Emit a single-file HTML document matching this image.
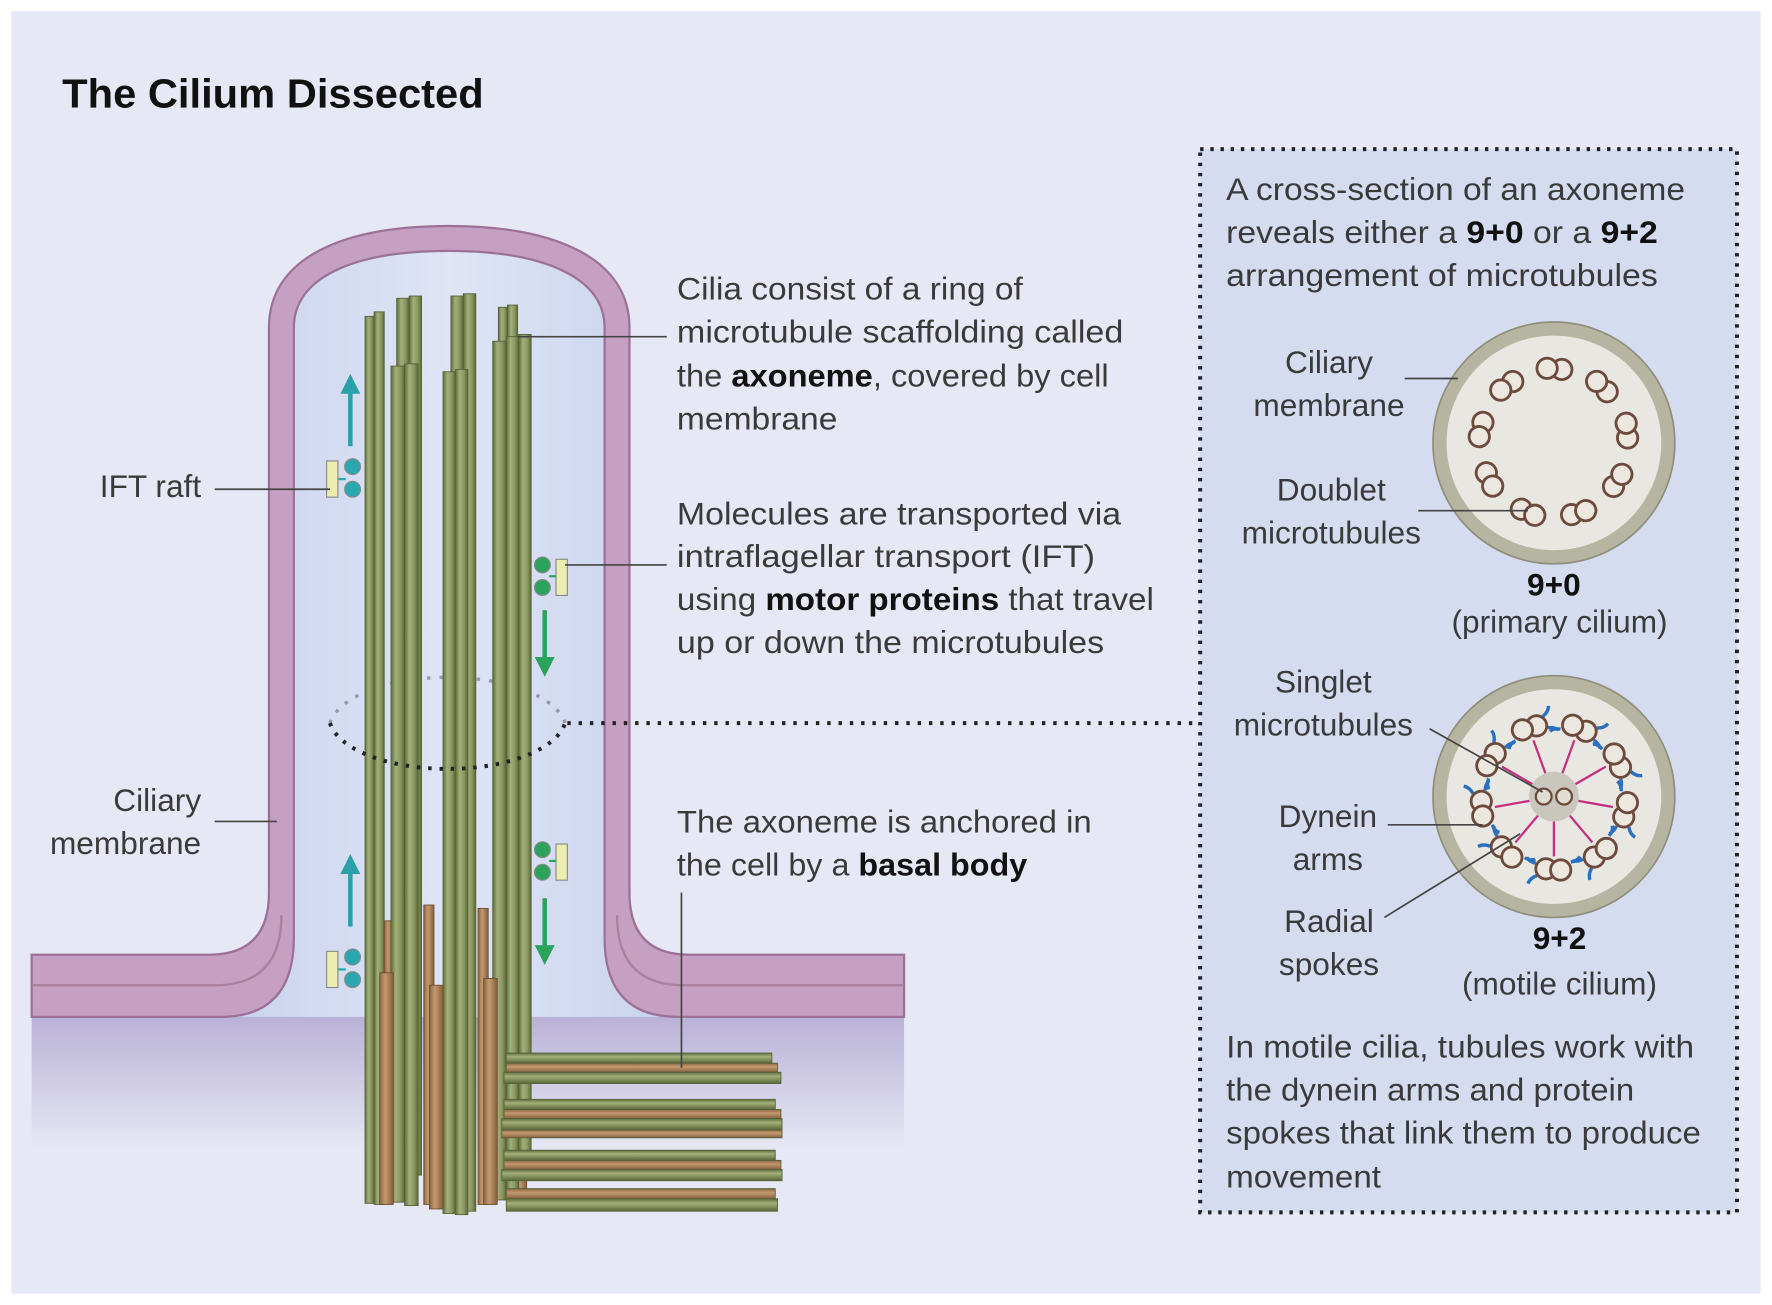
<!DOCTYPE html>
<html><head><meta charset="utf-8"><style>
html,body{margin:0;padding:0;background:#fff;}
svg{display:block;}
text{font-family:"Liberation Sans",sans-serif;fill:#3a3a3a;}
</style></head><body>
<svg width="1772" height="1305" viewBox="0 0 1568 1155" preserveAspectRatio="none" xmlns="http://www.w3.org/2000/svg">
<defs>
<linearGradient id="gr" x1="0" x2="1" y1="0" y2="0">
<stop offset="0" stop-color="#5f6d3c"/><stop offset="0.35" stop-color="#a4b07a"/><stop offset="0.7" stop-color="#8a9760"/><stop offset="1" stop-color="#5a6838"/></linearGradient>
<linearGradient id="br" x1="0" x2="1" y1="0" y2="0">
<stop offset="0" stop-color="#8a6440"/><stop offset="0.4" stop-color="#c49a70"/><stop offset="1" stop-color="#85603c"/></linearGradient>
<linearGradient id="grh" x1="0" x2="0" y1="0" y2="1">
<stop offset="0" stop-color="#5f6d3c"/><stop offset="0.35" stop-color="#a4b07a"/><stop offset="1" stop-color="#5a6838"/></linearGradient>
<linearGradient id="brh" x1="0" x2="0" y1="0" y2="1">
<stop offset="0" stop-color="#8a6440"/><stop offset="0.4" stop-color="#c49a70"/><stop offset="1" stop-color="#85603c"/></linearGradient>
<linearGradient id="sh" x1="0" x2="0" y1="0" y2="1">
<stop offset="0" stop-color="#b9b1d6"/><stop offset="1" stop-color="#e7e8f5"/></linearGradient>
<linearGradient id="inn" x1="0" x2="1" y1="0" y2="0">
<stop offset="0" stop-color="#c9d2ee"/><stop offset="0.5" stop-color="#dfe5f6"/><stop offset="1" stop-color="#c9d2ee"/></linearGradient>
</defs>
<rect x="0" y="0" width="1568" height="1155" fill="#fff"/>
<rect x="10" y="10" width="1548" height="1135" fill="#e7e8f5"/>
<text x="55" y="95" font-size="36" font-weight="bold" textLength="373" lengthAdjust="spacingAndGlyphs" style="fill:#111">The Cilium Dissected</text>

<!-- shadow below membrane -->
<rect x="28" y="898" width="772" height="120" fill="url(#sh)"/>
<!-- interior -->
<path d="M260,830 L260,290 C260,245 314,222 397,222 C480,222 535,245 535,290 L535,830 Q535,900 600,900 L195,900 Q260,900 260,830Z" fill="url(#inn)"/>
<!-- membrane -->
<path d="M28,845 L185,845 Q238,845 238,790 L238,290 C238,230 300,200 397,200 C494,200 557,230 557,290 L557,790 Q557,845 610,845 L800,845 L800,900 L600,900 Q535,900 535,830 L535,290 C535,245 480,222 397,222 C314,222 260,245 260,290 L260,830 Q260,900 195,900 L28,900 Z" fill="#c6a0c2" stroke="#9b7198" stroke-width="2"/>
<path d="M28,872 L190,872 Q249,872 249,810 M546,810 Q546,872 605,872 L800,872" fill="none" stroke="#a9809f" stroke-width="2"/>

<!-- dotted ellipse back half -->
<path d="M292,640 A105,47 0 0 1 500,640" fill="none" stroke="#555" stroke-width="3" stroke-dasharray="3,8" opacity="0.5"/>

<!-- rods: back -->
<g stroke="#56633a" stroke-width="0.8">
<rect x="323" y="280" width="8" height="785" fill="url(#gr)"/><rect x="331" y="276" width="9" height="790" fill="url(#gr)"/>
<rect x="351" y="264" width="11" height="775" fill="url(#gr)"/><rect x="362" y="262" width="11" height="778" fill="url(#gr)"/>
<rect x="399" y="262" width="11" height="810" fill="url(#gr)"/><rect x="410" y="260" width="11" height="812" fill="url(#gr)"/>
<rect x="441" y="272" width="8" height="770" fill="url(#gr)"/><rect x="449" y="270" width="9" height="772" fill="url(#gr)"/>
</g>
<g stroke="#6e4f30" stroke-width="0.8">
<rect x="340" y="815" width="8" height="245" fill="url(#br)"/>
<rect x="375" y="801" width="9" height="265" fill="url(#br)"/>
<rect x="423" y="804" width="9" height="262" fill="url(#br)"/>
<rect x="456" y="846" width="10" height="215" fill="url(#br)"/>
</g>
<g stroke="#56633a" stroke-width="0.8">
<rect x="346" y="324" width="12" height="740" fill="url(#gr)"/><rect x="358" y="322" width="12" height="745" fill="url(#gr)"/>
<rect x="392" y="329" width="11" height="745" fill="url(#gr)"/><rect x="403" y="327" width="11" height="748" fill="url(#gr)"/>
<rect x="436" y="302" width="12" height="760" fill="url(#gr)"/><rect x="448" y="298" width="11" height="765" fill="url(#gr)"/><rect x="459" y="296" width="11" height="740" fill="url(#gr)"/>
</g>
<g stroke="#6e4f30" stroke-width="0.8">
<rect x="336" y="861" width="12" height="205" fill="url(#br)"/>
<rect x="380" y="872" width="12" height="198" fill="url(#br)"/>
<rect x="428" y="866" width="12" height="200" fill="url(#br)"/>
</g>
<!-- horizontal basal rods -->
<g stroke="#56633a" stroke-width="0.8">
<rect x="448" y="932" width="235" height="9" fill="url(#grh)"/><rect x="448" y="941" width="240" height="8" fill="url(#brh)"/><rect x="446" y="949" width="245" height="10" fill="url(#grh)"/>
<rect x="446" y="973" width="240" height="9" fill="url(#grh)"/><rect x="446" y="982" width="245" height="8" fill="url(#brh)"/><rect x="444" y="990" width="248" height="10" fill="url(#grh)"/><rect x="444" y="1000" width="248" height="7" fill="url(#brh)"/>
<rect x="446" y="1018" width="240" height="9" fill="url(#grh)"/><rect x="446" y="1027" width="245" height="8" fill="url(#brh)"/><rect x="444" y="1035" width="248" height="10" fill="url(#grh)"/>
<rect x="448" y="1052" width="238" height="9" fill="url(#brh)"/><rect x="448" y="1061" width="240" height="11" fill="url(#grh)"/>
</g>

<!-- dotted ellipse front -->
<path d="M292,640 A105,47 0 0 0 500,640" fill="none" stroke="#222" stroke-width="3.5" stroke-dasharray="3,7"/>
<line x1="502" y1="640" x2="1062" y2="640" stroke="#222" stroke-width="3.5" stroke-dasharray="3,7"/>

<!-- arrows -->
<g fill="#2aa1a8" stroke="#2aa1a8"><line x1="310" y1="395" x2="310" y2="345" stroke-width="4"/><path d="M302,348 L310,332 L318,348Z"/>
<line x1="310" y1="820" x2="310" y2="770" stroke-width="4"/><path d="M302,773 L310,757 L318,773Z"/></g>
<g fill="#2ca35c" stroke="#2ca35c"><line x1="482" y1="540" x2="482" y2="585" stroke-width="4"/><path d="M474,582 L482,598 L490,582Z"/>
<line x1="482" y1="795" x2="482" y2="840" stroke-width="4"/><path d="M474,837 L482,853 L490,837Z"/></g>
<!-- IFT rafts -->
<g stroke="#888" stroke-width="1">
<rect x="289" y="408" width="10" height="32" fill="#eeedb0"/><line x1="299" y1="424" x2="306" y2="424" stroke="#2aa8b0" stroke-width="2"/><circle cx="312" cy="413" r="7" fill="#2aa8b0"/><circle cx="312" cy="433" r="7" fill="#2aa8b0"/>
<rect x="289" y="842" width="10" height="32" fill="#eeedb0"/><line x1="299" y1="858" x2="306" y2="858" stroke="#2aa8b0" stroke-width="2"/><circle cx="312" cy="847" r="7" fill="#2aa8b0"/><circle cx="312" cy="867" r="7" fill="#2aa8b0"/>
<rect x="492" y="495" width="10" height="32" fill="#eeedb0"/><line x1="486" y1="510" x2="492" y2="510" stroke="#2ca35c" stroke-width="2"/><circle cx="480" cy="500" r="7" fill="#2ca35c"/><circle cx="480" cy="520" r="7" fill="#2ca35c"/>
<rect x="492" y="747" width="10" height="32" fill="#eeedb0"/><line x1="486" y1="762" x2="492" y2="762" stroke="#2ca35c" stroke-width="2"/><circle cx="480" cy="752" r="7" fill="#2ca35c"/><circle cx="480" cy="772" r="7" fill="#2ca35c"/>
</g>

<!-- leader lines left -->
<g stroke="#444" stroke-width="1.5" fill="none">
<line x1="190" y1="433" x2="292" y2="433"/>
<line x1="190" y1="727" x2="245" y2="727"/>
<line x1="458" y1="298" x2="590" y2="298"/>
<line x1="500" y1="500" x2="590" y2="500"/>
<line x1="603" y1="790" x2="603" y2="945"/>
</g>
<g font-size="28">
<text x="178" y="440" text-anchor="end">IFT raft</text>
<text x="178" y="718" text-anchor="end">Ciliary</text>
<text x="178" y="756" text-anchor="end">membrane</text>
<text x="599" y="265" textLength="306" lengthAdjust="spacingAndGlyphs">Cilia consist of a ring of</text>
<text x="599" y="303" textLength="395" lengthAdjust="spacingAndGlyphs">microtubule scaffolding called</text>
<text x="599" y="342" textLength="382" lengthAdjust="spacingAndGlyphs">the <tspan font-weight="bold" style="fill:#111">axoneme</tspan>, covered by cell</text>
<text x="599" y="380" textLength="142" lengthAdjust="spacingAndGlyphs">membrane</text>
<text x="599" y="464" textLength="393" lengthAdjust="spacingAndGlyphs">Molecules are transported via</text>
<text x="599" y="502" textLength="370" lengthAdjust="spacingAndGlyphs">intraflagellar transport (IFT)</text>
<text x="599" y="540" textLength="422" lengthAdjust="spacingAndGlyphs">using <tspan font-weight="bold" style="fill:#111">motor proteins</tspan> that travel</text>
<text x="599" y="578" textLength="378" lengthAdjust="spacingAndGlyphs">up or down the microtubules</text>
<text x="599" y="737" textLength="367" lengthAdjust="spacingAndGlyphs">The axoneme is anchored in</text>
<text x="599" y="775" textLength="310" lengthAdjust="spacingAndGlyphs">the cell by a <tspan font-weight="bold" style="fill:#111">basal body</tspan></text>
</g>

<!-- box -->
<rect x="1062" y="132" width="475" height="941" fill="#d5dcf0" stroke="#222" stroke-width="3.5" stroke-dasharray="3,6"/>
<g font-size="28">
<text x="1085" y="177" textLength="406" lengthAdjust="spacingAndGlyphs">A cross-section of an axoneme</text>
<text x="1085" y="215" textLength="382" lengthAdjust="spacingAndGlyphs">reveals either a <tspan font-weight="bold" style="fill:#111">9+0</tspan> or a <tspan font-weight="bold" style="fill:#111">9+2</tspan></text>
<text x="1085" y="253" textLength="382" lengthAdjust="spacingAndGlyphs">arrangement of microtubules</text>
<text x="1085" y="936" textLength="414" lengthAdjust="spacingAndGlyphs">In motile cilia, tubules work with</text>
<text x="1085" y="974" textLength="361" lengthAdjust="spacingAndGlyphs">the dynein arms and protein</text>
<text x="1085" y="1012" textLength="420" lengthAdjust="spacingAndGlyphs">spokes that link them to produce</text>
<text x="1085" y="1051" textLength="137" lengthAdjust="spacingAndGlyphs">movement</text>
<g text-anchor="middle">
<text x="1176" y="330">Ciliary</text><text x="1176" y="368">membrane</text>
<text x="1178" y="443">Doublet</text><text x="1178" y="481">microtubules</text>
<text x="1375" y="527" font-weight="bold" style="fill:#111">9+0</text><text x="1380" y="560">(primary cilium)</text>
<text x="1171" y="613">Singlet</text><text x="1171" y="651">microtubules</text>
<text x="1175" y="732">Dynein</text><text x="1175" y="770">arms</text>
<text x="1176" y="825">Radial</text><text x="1176" y="863">spokes</text>
<text x="1380" y="840" font-weight="bold" style="fill:#111">9+2</text><text x="1380" y="880">(motile cilium)</text>
</g></g>

<!-- 9+0 -->
<circle cx="1375" cy="392" r="107" fill="#b6b5a1" stroke="#8f8e7a" stroke-width="1.5"/>
<circle cx="1375" cy="392" r="95" fill="#e8e7e1"/>
<g fill="#ece8df" stroke="#6e4a3c" stroke-width="2.5">
<g transform="rotate(0 1375 392)"><circle cx="1382" cy="327" r="9"/><circle cx="1369" cy="326" r="9"/></g>
<g transform="rotate(40 1375 392)"><circle cx="1382" cy="327" r="9"/><circle cx="1369" cy="326" r="9"/></g>
<g transform="rotate(80 1375 392)"><circle cx="1382" cy="327" r="9"/><circle cx="1369" cy="326" r="9"/></g>
<g transform="rotate(120 1375 392)"><circle cx="1382" cy="327" r="9"/><circle cx="1369" cy="326" r="9"/></g>
<g transform="rotate(160 1375 392)"><circle cx="1382" cy="327" r="9"/><circle cx="1369" cy="326" r="9"/></g>
<g transform="rotate(200 1375 392)"><circle cx="1382" cy="327" r="9"/><circle cx="1369" cy="326" r="9"/></g>
<g transform="rotate(240 1375 392)"><circle cx="1382" cy="327" r="9"/><circle cx="1369" cy="326" r="9"/></g>
<g transform="rotate(280 1375 392)"><circle cx="1382" cy="327" r="9"/><circle cx="1369" cy="326" r="9"/></g>
<g transform="rotate(320 1375 392)"><circle cx="1382" cy="327" r="9"/><circle cx="1369" cy="326" r="9"/></g>
</g>

<!-- 9+2 -->
<circle cx="1375" cy="705" r="107" fill="#b6b5a1" stroke="#8f8e7a" stroke-width="1.5"/>
<circle cx="1375" cy="705" r="95" fill="#e8e7e1"/>
<g stroke="#c4307f" stroke-width="2">
<g transform="rotate(20 1375 705)"><line x1="1375" y1="683" x2="1375" y2="652"/></g>
<g transform="rotate(60 1375 705)"><line x1="1375" y1="683" x2="1375" y2="652"/></g>
<g transform="rotate(100 1375 705)"><line x1="1375" y1="683" x2="1375" y2="652"/></g>
<g transform="rotate(140 1375 705)"><line x1="1375" y1="683" x2="1375" y2="652"/></g>
<g transform="rotate(180 1375 705)"><line x1="1375" y1="683" x2="1375" y2="652"/></g>
<g transform="rotate(220 1375 705)"><line x1="1375" y1="683" x2="1375" y2="652"/></g>
<g transform="rotate(260 1375 705)"><line x1="1375" y1="683" x2="1375" y2="652"/></g>
<g transform="rotate(300 1375 705)"><line x1="1375" y1="683" x2="1375" y2="652"/></g>
<g transform="rotate(340 1375 705)"><line x1="1375" y1="683" x2="1375" y2="652"/></g>
</g>
<circle cx="1375" cy="705" r="22" fill="#c9c7bd"/>
<circle cx="1366" cy="705" r="7" fill="#e0ddd3" stroke="#6e4a3c" stroke-width="2"/><circle cx="1384" cy="705" r="7" fill="#e0ddd3" stroke="#6e4a3c" stroke-width="2"/>
<g>
<g transform="rotate(20 1375 705)"><path d="M1390,635 q6,-2 8,-7 M1391,646 q5,1 8,5 M1360,647 q-6,1 -8,5" stroke="#2a6fc0" stroke-width="3" fill="none"/><circle cx="1382" cy="641" r="9" fill="#ece8df" stroke="#6e4a3c" stroke-width="2.5"/><circle cx="1369" cy="640" r="9" fill="#ece8df" stroke="#6e4a3c" stroke-width="2.5"/></g>
<g transform="rotate(60 1375 705)"><path d="M1390,635 q6,-2 8,-7 M1391,646 q5,1 8,5 M1360,647 q-6,1 -8,5" stroke="#2a6fc0" stroke-width="3" fill="none"/><circle cx="1382" cy="641" r="9" fill="#ece8df" stroke="#6e4a3c" stroke-width="2.5"/><circle cx="1369" cy="640" r="9" fill="#ece8df" stroke="#6e4a3c" stroke-width="2.5"/></g>
<g transform="rotate(100 1375 705)"><path d="M1390,635 q6,-2 8,-7 M1391,646 q5,1 8,5 M1360,647 q-6,1 -8,5" stroke="#2a6fc0" stroke-width="3" fill="none"/><circle cx="1382" cy="641" r="9" fill="#ece8df" stroke="#6e4a3c" stroke-width="2.5"/><circle cx="1369" cy="640" r="9" fill="#ece8df" stroke="#6e4a3c" stroke-width="2.5"/></g>
<g transform="rotate(140 1375 705)"><path d="M1390,635 q6,-2 8,-7 M1391,646 q5,1 8,5 M1360,647 q-6,1 -8,5" stroke="#2a6fc0" stroke-width="3" fill="none"/><circle cx="1382" cy="641" r="9" fill="#ece8df" stroke="#6e4a3c" stroke-width="2.5"/><circle cx="1369" cy="640" r="9" fill="#ece8df" stroke="#6e4a3c" stroke-width="2.5"/></g>
<g transform="rotate(180 1375 705)"><path d="M1390,635 q6,-2 8,-7 M1391,646 q5,1 8,5 M1360,647 q-6,1 -8,5" stroke="#2a6fc0" stroke-width="3" fill="none"/><circle cx="1382" cy="641" r="9" fill="#ece8df" stroke="#6e4a3c" stroke-width="2.5"/><circle cx="1369" cy="640" r="9" fill="#ece8df" stroke="#6e4a3c" stroke-width="2.5"/></g>
<g transform="rotate(220 1375 705)"><path d="M1390,635 q6,-2 8,-7 M1391,646 q5,1 8,5 M1360,647 q-6,1 -8,5" stroke="#2a6fc0" stroke-width="3" fill="none"/><circle cx="1382" cy="641" r="9" fill="#ece8df" stroke="#6e4a3c" stroke-width="2.5"/><circle cx="1369" cy="640" r="9" fill="#ece8df" stroke="#6e4a3c" stroke-width="2.5"/></g>
<g transform="rotate(260 1375 705)"><path d="M1390,635 q6,-2 8,-7 M1391,646 q5,1 8,5 M1360,647 q-6,1 -8,5" stroke="#2a6fc0" stroke-width="3" fill="none"/><circle cx="1382" cy="641" r="9" fill="#ece8df" stroke="#6e4a3c" stroke-width="2.5"/><circle cx="1369" cy="640" r="9" fill="#ece8df" stroke="#6e4a3c" stroke-width="2.5"/></g>
<g transform="rotate(300 1375 705)"><path d="M1390,635 q6,-2 8,-7 M1391,646 q5,1 8,5 M1360,647 q-6,1 -8,5" stroke="#2a6fc0" stroke-width="3" fill="none"/><circle cx="1382" cy="641" r="9" fill="#ece8df" stroke="#6e4a3c" stroke-width="2.5"/><circle cx="1369" cy="640" r="9" fill="#ece8df" stroke="#6e4a3c" stroke-width="2.5"/></g>
<g transform="rotate(340 1375 705)"><path d="M1390,635 q6,-2 8,-7 M1391,646 q5,1 8,5 M1360,647 q-6,1 -8,5" stroke="#2a6fc0" stroke-width="3" fill="none"/><circle cx="1382" cy="641" r="9" fill="#ece8df" stroke="#6e4a3c" stroke-width="2.5"/><circle cx="1369" cy="640" r="9" fill="#ece8df" stroke="#6e4a3c" stroke-width="2.5"/></g>
</g>
<!-- box leader lines -->
<g stroke="#444" stroke-width="1.5">
<line x1="1243" y1="335" x2="1290" y2="335"/>
<line x1="1255" y1="452" x2="1352" y2="452"/>
<line x1="1265" y1="645" x2="1365" y2="701"/>
<line x1="1228" y1="730" x2="1312" y2="730"/>
<line x1="1225" y1="812" x2="1345" y2="738"/>
</g>
</svg>
</body></html>
